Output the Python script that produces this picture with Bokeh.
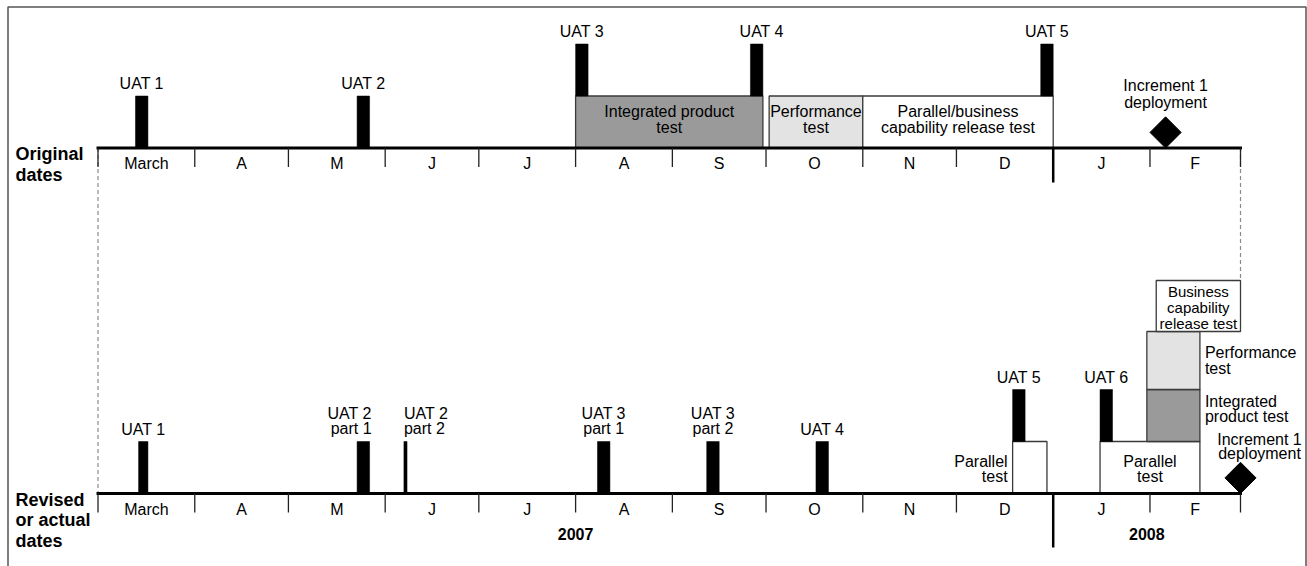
import numpy as np
import pandas as pd
from bokeh.plotting import figure
from bokeh.models import Range1d
from bokeh.embed import file_html
from bokeh.resources import INLINE
from bokeh.core.properties import value

# ---------------- data ----------------
timeline_start = "2007-03-01"
timeline_end = "2008-03-01"
month_labels = ["March", "A", "M", "J", "J", "A", "S", "O", "N", "D", "J", "F"]
year_labels = ["2007", "2008"]
year_starts = ["2007-03-01", "2008-01-01"]
year_ends = ["2008-01-01", "2008-03-01"]
row_labels = ["Original\ndates", "Revised\nor actual\ndates"]

# original plan
orig_uat_names = ["UAT 1", "UAT 2", "UAT 3", "UAT 4", "UAT 5"]
orig_uat_start = ["2007-03-13", "2007-05-23", "2007-08-01", "2007-09-26", "2007-12-28"]
orig_uat_end = ["2007-03-17", "2007-05-27", "2007-08-05", "2007-09-30", "2008-01-01"]
orig_test_names = ["Integrated product\ntest", "Performance\ntest",
                   "Parallel/business\ncapability release test"]
orig_test_kind = ["integrated", "performance", "parallel"]
orig_test_start = ["2007-08-01", "2007-10-02", "2007-11-01"]
orig_test_end = ["2007-09-30", "2007-11-01", "2008-01-01"]
orig_deploy_label = "Increment 1\ndeployment"
orig_deploy_date = "2008-02-06"

# revised / actual
rev_uat_names = ["UAT 1", "UAT 2\npart 1", "UAT 2\npart 2", "UAT 3\npart 1",
                 "UAT 3\npart 2", "UAT 4", "UAT 5", "UAT 6"]
rev_uat_start = ["2007-03-14", "2007-05-23", "2007-06-07", "2007-08-08",
                 "2007-09-12", "2007-10-17", "2007-12-19", "2008-01-16"]
rev_uat_end = ["2007-03-17", "2007-05-27", "2007-06-08", "2007-08-12",
               "2007-09-16", "2007-10-21", "2007-12-23", "2008-01-20"]
rev_test_names = ["Parallel\ntest", "Parallel\ntest", "Integrated\nproduct test",
                  "Performance\ntest", "Business\ncapability\nrelease test"]
rev_test_kind = ["parallel", "parallel", "integrated", "performance", "business"]
rev_test_start = ["2007-12-19", "2008-01-16", "2008-01-31", "2008-01-31", "2008-02-03"]
rev_test_end = ["2007-12-30", "2008-02-17", "2008-02-17", "2008-02-17", "2008-03-01"]
rev_deploy_label = "Increment 1\ndeployment"
rev_deploy_date = "2008-03-01"

# ---------------- layout / style ----------------
W, H = 1307, 566
PAGE = 0
X_DAY0, X_DAYN = 97.5, 1240.0          # pixels of timeline start / end
AXIS_Y = [147.5, 493.0]                 # pixels of the two timelines
LEVEL_H = [52, 52, 58, 51]
FONT = value("Liberation Sans")
KIND_FILL = {"integrated": "#9a9a9a", "performance": "#e3e3e3",
             "parallel": "#ffffff", "business": "#ffffff"}
BOX_LINE = "#3a3a3a"
LH = 1.15  # font height / font size ratio used for line spacing


def lh(spacing, size):
    return spacing / (LH * size)


T0 = pd.Timestamp(timeline_start)


def days(arr):
    return ((pd.to_datetime(pd.Series(arr)) - T0).dt.days).to_numpy(float)


N_DAYS = float(days([timeline_end])[0])
px_per_day = (X_DAYN - X_DAY0) / N_DAYS
XS = -(X_DAY0 - PAGE) / px_per_day
XE = XS + W / px_per_day

p = figure(width=W, height=H, x_range=Range1d(XS, XE),
           y_range=Range1d(PAGE + H, PAGE),
           output_backend="svg", toolbar_location=None,
           x_axis_location=None, y_axis_location=None, min_border=0)
p.grid.visible = False
p.outline_line_color = None
p.background_fill_color = "white"
p.border_fill_color = "white"

# frame (left, top, right)
fl = XS + 7.5 / px_per_day
fr = XS + 1305.5 / px_per_day
p.multi_line(xs=[[fl, fl, fr, fr]],
             ys=[[PAGE + H + 20, 6.5, 6.5, PAGE + H + 20]],
             line_color="#555555", line_width=1.5)


def level_cum(k):
    return sum(LEVEL_H[:k])


def stack_levels(s, e_):
    lv = []
    for i in range(len(s)):
        l = 0
        for j in range(i):
            if s[i] < e_[j] and e_[i] > s[j]:
                l = max(l, lv[j] + 1)
        lv.append(l)
    return lv


def bar_levels(bs, be, ts, te, tl):
    out = []
    for i in range(len(bs)):
        l = 0
        for j in range(len(ts)):
            if bs[i] < te[j] and be[i] > ts[j]:
                l = max(l, tl[j] + 1)
        out.append(l)
    return out


month_edges = days(pd.date_range(timeline_start, timeline_end, freq="MS"))
year_div = days([year_starts[1]])[0]

rows = [
    dict(uat_n=orig_uat_names, uat_s=days(orig_uat_start), uat_e=days(orig_uat_end),
         t_n=orig_test_names, t_k=orig_test_kind, t_s=days(orig_test_start),
         t_e=days(orig_test_end), dep_l=orig_deploy_label, dep_d=days([orig_deploy_date])[0]),
    dict(uat_n=rev_uat_names, uat_s=days(rev_uat_start), uat_e=days(rev_uat_end),
         t_n=rev_test_names, t_k=rev_test_kind, t_s=days(rev_test_start),
         t_e=days(rev_test_end), dep_l=rev_deploy_label, dep_d=days([rev_deploy_date])[0]),
]

for r, ay in zip(rows, AXIS_Y):
    r["t_lv"] = stack_levels(r["t_s"], r["t_e"])
    r["t_bot"] = [ay - level_cum(l) for l in r["t_lv"]]
    r["t_top"] = [ay - level_cum(l + 1) for l in r["t_lv"]]
    r["u_lv"] = bar_levels(r["uat_s"], r["uat_e"], r["t_s"], r["t_e"], r["t_lv"])
    r["u_bot"] = [ay - level_cum(l) for l in r["u_lv"]]
    r["u_top"] = [ay - level_cum(l + 1) for l in r["u_lv"]]

# dashed connectors
right_top = min(t for t, en in zip(rows[1]["t_top"], rows[1]["t_e"]) if en >= N_DAYS)
p.segment(x0=[0, N_DAYS], x1=[0, N_DAYS], y0=[AXIS_Y[0], AXIS_Y[0]],
          y1=[AXIS_Y[1], right_top], line_color="#8a8a8a", line_width=1.2,
          line_dash="4 3")

for r, ay in zip(rows, AXIS_Y):
    p.quad(left=r["t_s"], right=r["t_e"], top=r["t_top"], bottom=r["t_bot"],
           fill_color=[KIND_FILL[k] for k in r["t_k"]], line_color=BOX_LINE,
           line_width=1.3)
    p.quad(left=r["uat_s"], right=r["uat_e"], top=r["u_top"], bottom=r["u_bot"],
           fill_color="black", line_color="black", line_width=0.5)
    p.segment(x0=[0], x1=[N_DAYS], y0=[ay], y1=[ay], line_color="black",
              line_width=3, line_cap="square")
    tk = [m for m in month_edges if m != year_div]
    p.segment(x0=tk, x1=tk, y0=[ay] * len(tk), y1=[ay + 19] * len(tk),
              line_color="#222222", line_width=1.3)
    mc = [(a + b) / 2 for a, b in zip(month_edges[:-1], month_edges[1:])]
    p.text(x=mc, y=[ay + 15.5] * len(mc), text=month_labels, text_align="center",
           text_baseline="middle", text_font=FONT, text_font_size="16px",
           text_color="black")
    p.scatter(x=[r["dep_d"]], y=[ay - 15.6], marker="square", size=22,
              angle=np.pi / 4, fill_color="black", line_color="black")

# year divider
p.segment(x0=[year_div, year_div], x1=[year_div, year_div],
          y0=[AXIS_Y[0], AXIS_Y[1]], y1=[AXIS_Y[0] + 34.5, AXIS_Y[1] + 54],
          line_color="black", line_width=2.5)

# year labels
yc = [(a + b) / 2 for a, b in zip(days(year_starts), days(year_ends))]
p.text(x=yc, y=[AXIS_Y[1] + 40.5] * 2, text=year_labels, text_align="center",
       text_baseline="middle", text_font=FONT, text_font_size="16px",
       text_font_style="bold", text_color="black")

# row labels
for lab, yy, sp in zip(row_labels, [164, 520], [22, 21]):
    p.text(x=[XS], y=[yy], text=[lab], x_offset=[15 - PAGE], text_align="left",
           text_baseline="middle", text_font=FONT, text_font_size="18px",
           text_font_style="bold", text_line_height=lh(sp, 18), text_color="black")


def put(x, y, t, align, spacing=16.3, size=16, xo=None, baseline="middle"):
    if not x:
        return
    p.text(x=x, y=y, text=t, x_offset=xo if xo is not None else [0] * len(x),
           text_align=align, text_baseline=baseline, text_font=FONT,
           text_font_size=f"{size}px", text_line_height=lh(spacing, size),
           text_color="black")


# UAT labels
orig_uat_xo = [0, 0, 0, 5, 0]
rev_uat_align = ["center", "right", "left", "center", "center", "center", "center", "center"]
for r, aligns, xos in [(rows[0], ["center"] * 5, orig_uat_xo),
                       (rows[1], rev_uat_align, [0] * 8)]:
    for al in ["center", "left", "right"]:
        idx = [i for i, a in enumerate(aligns) if a == al]
        xs = []
        for i in idx:
            if al == "center":
                xs.append((r["uat_s"][i] + r["uat_e"][i]) / 2)
            elif al == "left":
                xs.append(r["uat_s"][i])
            else:
                xs.append(r["uat_e"][i])
        put(xs, [r["u_top"][i] - 4 for i in idx], [r["uat_n"][i] for i in idx], al,
            spacing=17, xo=[xos[i] + (2 if al == "right" else 0) for i in idx],
            baseline="bottom")

# original test texts (inside)
r = rows[0]
put([(a + b) / 2 for a, b in zip(r["t_s"], r["t_e"])],
    [(t + b) / 2 - 2.5 for t, b in zip(r["t_top"], r["t_bot"])],
    r["t_n"], "center", spacing=16.3)

# revised test texts
r = rows[1]
rev_text_mode = ["left", "inside", "right", "right", "inside"]
rev_text_dy = [1.5, 1.5, -6.5, 0, 1.5]
rev_text_size = [16, 16, 16, 16, 15]
rev_text_spacing = [16, 16, 16.6, 17.6, 16.3]
for i, mode in enumerate(rev_text_mode):
    cy = (r["t_top"][i] + r["t_bot"][i]) / 2 + rev_text_dy[i]
    sz, sp = rev_text_size[i], rev_text_spacing[i]
    if mode == "left":
        put([r["t_s"][i]], [cy], [r["t_n"][i]], "right", spacing=sp, size=sz, xo=[-5])
    elif mode == "right":
        put([r["t_e"][i]], [cy], [r["t_n"][i]], "left", spacing=sp, size=sz, xo=[5])
    else:
        put([(r["t_s"][i] + r["t_e"][i]) / 2], [cy], [r["t_n"][i]], "center",
            spacing=sp, size=sz)

# deployment labels
for r, ay, dy, dx, sp in [(rows[0], AXIS_Y[0], -38.5, 0, 18),
                          (rows[1], AXIS_Y[1], -31.5, 19, 16)]:
    put([r["dep_d"]], [ay - 15.6 + dy], [r["dep_l"]], "center", spacing=sp, xo=[dx])

open("out.html", "w").write(file_html(p, INLINE))
